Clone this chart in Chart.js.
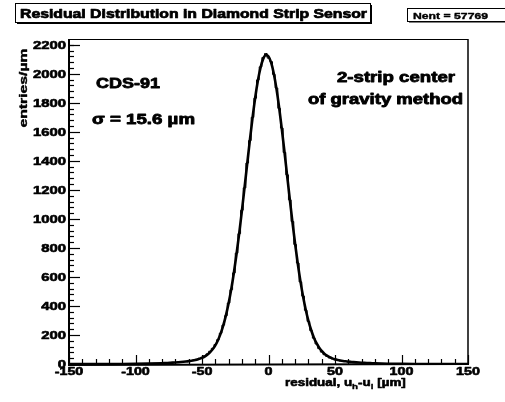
<!DOCTYPE html>
<html>
<head>
<meta charset="utf-8">
<script src="https://cdn.jsdelivr.net/npm/chart.js@4.4.1/dist/chart.umd.min.js"></script>
<style>
html,body{margin:0;padding:0;background:#fff;}
canvas{display:block;}
</style>
</head>
<body>
<canvas id="c" width="505" height="402"></canvas>
<script>
// ---- data ----
const histX = [-150,-140,-130,-120,-110,-100,-90,-84,
  -80,-78,-76,-74,-72,-70,-68,-66,-64,-62,-60,-58,-56,-54,-52,-50,-48,-46,-44,-42,-40,-38,-36,-34,-32,-30,-28,-26,-24,-22,-20,-18,-16,-14,-12,-10,-8,-6,-4,-2,
  0,2,4,6,8,10,12,14,16,18,20,22,24,26,28,30,32,34,36,38,40,42,44,46,48,50,52,54,56,58,60,62,64,66,68,70,72,74,76,78,80,
  84,90,100,110,120,130,140,150];
const histY = [0,1,0,1,2,1,3,4,
  7,5,9,8,11,10,14,13,17,18,22,24,29,33,40,47,58,70,88,108,134,168,212,268,333,420,512,628,764,898,1060,1214,1385,1540,1700,1832,1958,2048,2112,2140,
  2108,2084,1996,1902,1762,1626,1458,1304,1131,982,824,696,566,468,370,294,230,178,138,106,82,64,52,41,35,28,25,21,19,17,15,14,12,11,9,9,7,7,6,5,5,
  3,2,1,1,0,1,0,0];

const fitX = [-150,-130,-110,-100,-90,
  -80,-78,-76,-74,-72,-70,-68,-66,-64,-62,-60,-58,-56,-54,-52,-50,-48,-46,-44,-42,-40,-38,-36,-34,-32,-30,-28,-26,-24,-22,-20,-18,-16,-14,-12,-10,-8,-6,-4,-2,
  0,2,4,6,8,10,12,14,16,18,20,22,24,26,28,30,32,34,36,38,40,42,44,46,48,50,52,54,56,58,60,62,64,66,68,70,72,74,76,78,80,
  90,100,110,130,150];
const fitY = [0,0.1,0.5,1.2,2.7,
  5.6,6.4,7.2,8.2,9.3,10.6,12.0,13.5,15.3,17.3,19.6,22.3,25.7,30.0,35.4,42.4,51.6,63.8,79.9,101,129,164,209,266,335,418,516,631,760,902,1056,1217,1381,1543,1696,1835,1952,2042,2103,2129,
  2120,2077,2001,1896,1768,1621,1463,1299,1136,978,829,693,571,465,374,298,236,185,145,114,89.8,71.3,57.3,46.8,38.6,32.5,27.7,23.9,20.9,18.4,16.2,14.4,12.7,11.3,10.0,8.8,7.7,6.8,6.0,5.2,4.5,
  2.1,0.9,0.4,0,0];

const xTicks = [-150,-100,-50,0,50,100,150];
const yTicks = [0,200,400,600,800,1000,1200,1400,1600,1800,2000,2200];
const xMinorTicks = [-140,-130,-120,-110,-90,-80,-70,-60,-40,-30,-20,-10,10,20,30,40,60,70,80,90,110,120,130,140];
const yMinorTicks = [40,80,120,160,240,280,320,360,440,480,520,560,640,680,720,760,840,880,920,960,1040,1080,1120,1160,1240,1280,1320,1360,1440,1480,1520,1560,1640,1680,1720,1760,1840,1880,1920,1960,2040,2080,2120,2160,2200];

const titleText = "Residual Distribution in Diamond Strip Sensor";
const statText = "Nent = 57769";
const yTitle = "entries/µm";
const label1 = "CDS-91";
const label2 = "σ = 15.6 µm";
const label3a = "2-strip center";
const label3b = "of gravity method";

const FONT = '"Liberation Sans", Arial, sans-serif';

function txt(ctx, s, x, y, size, opts) {
  opts = opts || {};
  ctx.save();
  ctx.font = 'bold ' + size + 'px ' + FONT;
  const m = ctx.measureText(s).width;
  const sx = opts.width ? opts.width / m : (opts.sx || 1);
  ctx.translate(x, y);
  if (opts.rot) ctx.rotate(opts.rot);
  ctx.scale(sx, 1);
  ctx.textAlign = opts.align || 'left';
  ctx.textBaseline = opts.baseline || 'alphabetic';
  ctx.fillStyle = '#000';
  ctx.strokeStyle = '#000';
  ctx.lineWidth = opts.heavy === undefined ? 0.6 : opts.heavy;
  ctx.lineJoin = 'round';
  ctx.fillText(s, 0, 0);
  if (ctx.lineWidth > 0) ctx.strokeText(s, 0, 0);
  ctx.restore();
  return m * sx;
}

const decor = {
  id: 'decor',
  afterDraw(chart) {
    const ctx = chart.ctx;
    const xs = chart.scales.x, ys = chart.scales.y;
    const L = xs.getPixelForValue(-150), R = xs.getPixelForValue(150);
    const B = ys.getPixelForValue(0), T = chart.chartArea.top;
    ctx.save();
    ctx.strokeStyle = '#000';
    // frame
    ctx.lineWidth = 1;
    ctx.beginPath(); ctx.moveTo(L, T + 0.5); ctx.lineTo(R, T + 0.5); ctx.stroke();
    ctx.lineWidth = 1.5;
    ctx.beginPath(); ctx.moveTo(R, T); ctx.lineTo(R, B); ctx.stroke();
    ctx.lineWidth = 2;
    ctx.beginPath(); ctx.moveTo(L, T); ctx.lineTo(L, B + 1); ctx.lineTo(R + 1, B); ctx.stroke();
    // y ticks
    ctx.lineWidth = 1.2;
    yTicks.forEach(v => { const p = Math.round(ys.getPixelForValue(v)) + 0.5; ctx.beginPath(); ctx.moveTo(L, p); ctx.lineTo(L + 11, p); ctx.stroke(); });
    yMinorTicks.forEach(v => { const p = Math.round(ys.getPixelForValue(v)) + 0.5; ctx.beginPath(); ctx.moveTo(L, p); ctx.lineTo(L + 5, p); ctx.stroke(); });
    // x ticks
    xTicks.forEach(v => { const p = Math.round(xs.getPixelForValue(v)) + 0.5; ctx.beginPath(); ctx.moveTo(p, B); ctx.lineTo(p, B - 9); ctx.stroke(); });
    xMinorTicks.forEach(v => { const p = Math.round(xs.getPixelForValue(v)) + 0.5; ctx.beginPath(); ctx.moveTo(p, B); ctx.lineTo(p, B - 5); ctx.stroke(); });
    // tick labels
    yTicks.forEach(v => txt(ctx, String(v), L - 3, ys.getPixelForValue(v) + 4, 11, {align: 'right', sx: 1.35}));
    xTicks.forEach(v => txt(ctx, String(v), xs.getPixelForValue(v), B + 11, 11, {align: 'center', sx: 1.3}));
    // x title with subscripts
    let x0 = 285; const by = 386; const sxT = 1.22;
    x0 += txt(ctx, 'residual, u', x0, by, 11, {sx: sxT});
    x0 += txt(ctx, 'h', x0, by + 3, 8, {sx: sxT, heavy: 0.4});
    x0 += txt(ctx, '-u', x0, by, 11, {sx: sxT});
    x0 += txt(ctx, 'l', x0, by + 3, 8, {sx: sxT, heavy: 0.4});
    txt(ctx, ' [µm]', x0, by, 11, {sx: sxT});
    // y title
    txt(ctx, yTitle, 27, 88, 10, {rot: -Math.PI / 2, align: 'center', width: 79, heavy: 0.4});
    // annotations
    txt(ctx, label1, 96, 88, 15, {width: 64, heavy: 0.8});
    txt(ctx, label2, 92, 124, 14, {width: 103, heavy: 0.8});
    txt(ctx, label3a, 337, 82, 14, {width: 118, heavy: 0.8});
    txt(ctx, label3b, 308, 104, 14, {width: 155, heavy: 0.8});
    // title box
    ctx.fillStyle = '#fff';
    ctx.lineWidth = 1;
    ctx.fillRect(15, 3, 355, 20);
    ctx.fillStyle = '#000';
    ctx.fillRect(17, 22, 355, 2);
    ctx.fillRect(370, 5, 2, 19);
    ctx.strokeRect(15.5, 3.5, 355, 19);
    txt(ctx, titleText, 20, 18, 12.5, {width: 347, heavy: 0.7});
    // stats box
    ctx.fillStyle = '#fff';
    ctx.fillRect(407, 8, 110, 14);
    ctx.lineWidth = 1;
    ctx.strokeRect(407.5, 8.5, 110, 13);
    ctx.fillStyle = '#000';
    ctx.fillRect(409, 21, 110, 1.5);
    txt(ctx, statText, 413, 19, 9.5, {width: 75, heavy: 0.4});
    ctx.restore();
  }
};

new Chart(document.getElementById('c'), {
  type: 'line',
  data: {
    datasets: [
      {
        data: histX.map((x, i) => ({x: x, y: histY[i]})),
        borderColor: '#000', borderWidth: 1, pointRadius: 0, stepped: 'middle', fill: false
      },
      {
        data: fitX.map((x, i) => ({x: x, y: fitY[i]})),
        borderColor: '#000', borderWidth: 2.6, pointRadius: 0, cubicInterpolationMode: 'monotone', fill: false
      }
    ]
  },
  options: {
    responsive: false,
    animation: false,
    devicePixelRatio: 1,
    layout: {padding: {left: 69, right: 37, top: 39, bottom: 38}},
    plugins: {legend: {display: false}, tooltip: {enabled: false}, title: {display: false}},
    scales: {
      x: {type: 'linear', min: -150, max: 150, display: false},
      y: {type: 'linear', min: 0, max: 2240, display: false}
    }
  },
  plugins: [decor]
});
</script>
</body>
</html>
